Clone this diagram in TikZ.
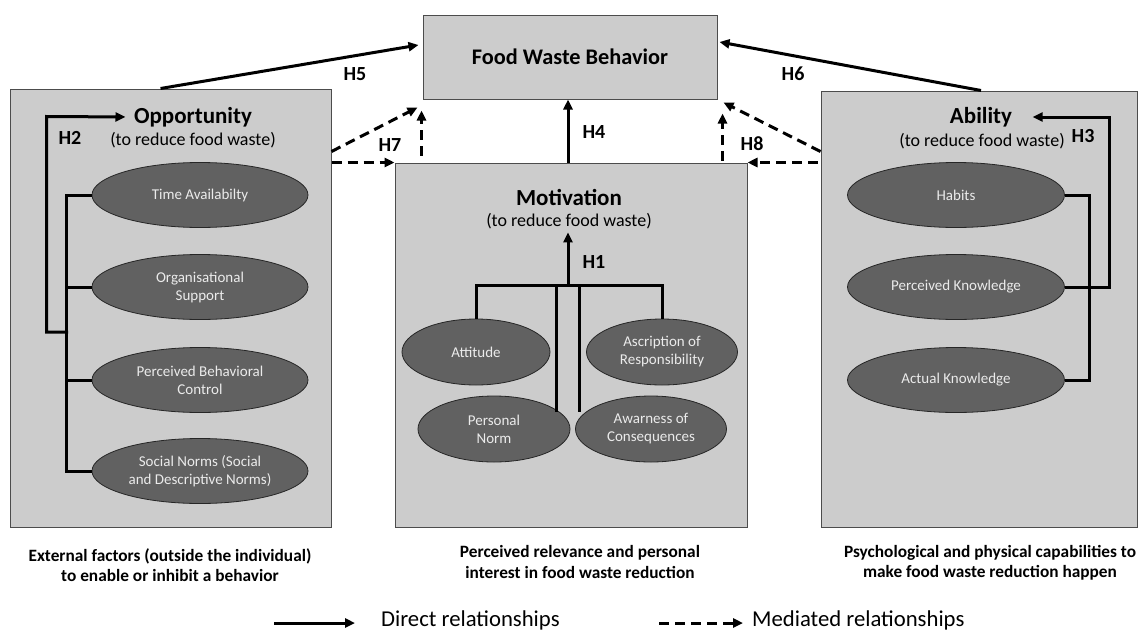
\documentclass[tikz,border=0pt]{standalone}
\usepackage{fontspec}
\setmainfont{Carlito}
\usepackage{tikz}
\usetikzlibrary{shapes.geometric}
\usetikzlibrary{calc}
\usetikzlibrary{arrows.meta}
\tikzset{ panel/.style = {rectangle, draw=black!70, fill=black!20, line width=1pt, inner sep=0pt} }
\tikzset{ factor/.style = {ellipse, draw=black!85, fill=black!62, text=white!92!black, line width=0.8pt, minimum width=216pt, minimum height=65pt, inner sep=0pt, align=center, font=\fontsize{15}{18}\selectfont} }
\tikzset{ title_text/.style = {font=\fontsize{23}{27}\selectfont\bfseries} }
\tikzset{ sub_text/.style = {font=\fontsize{18}{21}\selectfont} }
\tikzset{ hyp/.style = {font=\fontsize{20}{24}\selectfont\bfseries} }
\tikzset{ note/.style = {align=center, font=\fontsize{17.3}{20.5}\selectfont\bfseries} }
\tikzset{ link/.style = {line width=3pt} }
\tikzset{ direct/.style = {line width=3pt, -{Triangle[length=10pt,width=9pt]}} }
\tikzset{ mediated/.style = {direct, dash pattern=on 10pt off 6pt} }

\begin{document}
\begin{tikzpicture}[x=1pt,y=-1pt]
    \useasboundingbox (0,0) rectangle (1141,632);
    % panels
    \node [panel, minimum width=294pt, minimum height=84pt, font=\fontsize{22.3}{26}\selectfont\bfseries] (fwb) at (570,57) {Food Waste Behavior};
    \node [panel, minimum width=321pt, minimum height=438pt] (opp) at (170.5,308) {};
    \node [panel, minimum width=352pt, minimum height=364pt] (mot) at (571,345) {};
    \node [panel, minimum width=316pt, minimum height=436pt] (abl) at (979,309) {};
    % titles
    \node [title_text] (opp_title) at (193,117) {Opportunity};
    \node [sub_text] (opp_sub) at (193,140) {(to reduce food waste)};
    \node [title_text] (mot_title) at (569,197) {Motivation};
    \node [sub_text] (mot_sub) at (569,221) {(to reduce food waste)};
    \node [title_text] (abl_title) at (981,117) {Ability};
    \node [sub_text] (abl_sub) at (982,141) {(to reduce food waste)};
    % opportunity factors
    \node [factor] (ta) at (200,195) {Time Availabilty};
    \node [factor] (os) at (200,287) {Organisational\\Support};
    \node [factor] (pbc) at (200,380) {Perceived Behavioral\\Control};
    \node [factor] (sn) at (200,471) {Social Norms (Social\\and Descriptive Norms)};
    % motivation factors
    \node [factor, minimum width=148pt, minimum height=66pt] (att) at (476,352) {Attitude};
    \node [factor, minimum width=151pt, minimum height=66pt] (asc) at (662,352) {Ascription of\\Responsibility};
    \node [factor, minimum width=152pt, minimum height=66pt] (pn) at (494,429) {Personal\\Norm};
    \node [factor, minimum width=151pt, minimum height=66pt] (aw) at (651,429) {Awarness of\\Consequences};
    % ability factors
    \node [factor, minimum width=217pt] (hab) at (956,195) {Habits};
    \node [factor, minimum width=217pt] (pk) at (956,287) {Perceived Knowledge};
    \node [factor, minimum width=217pt] (ak) at (956,380) {Actual Knowledge};
    % H2
    \draw [link] (ta.west) -- ++(-25,0) |- (sn.west);
    \draw [link] (os.west) -- ++(-25,0);
    \draw [link] (pbc.west) -- ++(-25,0);
    \draw [direct, shorten >=5pt] ($(os.west)+(-23.5,45)$) -| ($(opp.north west)+(37,28)$) -- (opp_title.west);
    \node [hyp] (h2) at (70,138) {H2};
    % H1
    \coordinate (hub) at (568,285);
    \draw [link] (att.north) |- (hub) -| (asc.north);
    \draw [link] ($(hub)+(-12,0)$) -- ++(0,127);
    \draw [link] ($(hub)+(11,0)$) -- ++(0,127);
    \draw [direct] (hub) -- (hub |- mot_sub.south);
    \node [hyp] (h1) at (594,262) {H1};
    % H3
    \draw [link] (hab.east) -- ++(25,0) |- (ak.east);
    \draw [direct] (pk.east) -- ++(45,0) |- ($(abl_title.east)+(17,0)$);
    \node [hyp] (h3) at (1083,136) {H3};
    % direct paths
    \draw [direct] ($(opp.north)+(-10,0)$) -- ($(fwb.west)+(-4,-12)$);
    \node [hyp] (h5) at (355,74) {H5};
    \draw [direct] ($(abl.north)+(2,0)$) -- ($(fwb.east)+(2,-15)$);
    \node [hyp] (h6) at (793,74) {H6};
    \draw [direct] (mot.north -| hub) -- (fwb.south -| hub);
    \node [hyp] (h4) at (594,132) {H4};
    % mediated paths
    \draw [mediated] ($(opp.north east)+(0,63)$) -- ($(fwb.south west)+(-5,8)$);
    \draw [mediated] (opp.east |- mot.north west) -- (mot.north west);
    \draw [mediated] ($(fwb.south west)+(-1,56)$) -- ($(fwb.south west)+(-1,11)$);
    \node [hyp] (h7) at (390,145) {H7};
    \draw [mediated] ($(abl.north west)+(0,61)$) -- ($(fwb.south east)+(6,3)$);
    \draw [mediated] ($(abl.west |- mot.north east)+(-3,0)$) -- (mot.north east);
    \draw [mediated] ($(fwb.south east)+(5,61)$) -- ($(fwb.south east)+(5,14)$);
    \node [hyp] (h8) at (752,144) {H8};
    % notes
    \node [note] (opp_note) at (170,565) {External factors (outside the individual)\\to enable or inhibit a behavior};
    \node [note] (mot_note) at (580,562) {Perceived relevance and personal\\interest in food waste reduction};
    \node [note] (abl_note) at (990,563) {Psychological and physical capabilities to\\make food waste reduction happen};
    % legend
    \node [anchor=base west, inner sep=0pt, font=\fontsize{22.7}{26}\selectfont] (leg_direct) at (381,626) {Direct relationships};
    \node [anchor=base west, inner sep=0pt, font=\fontsize{22.7}{26}\selectfont] (leg_mediated) at (752,626) {Mediated relationships};
    \coordinate (leg_d) at (274,623);
    \coordinate (leg_m) at (659,623);
    \draw [direct] (leg_d) -- (leg_d -| 355,0);
    \draw [mediated] (leg_m) -- (leg_m -| 743,0);
\end{tikzpicture}
\end{document}
